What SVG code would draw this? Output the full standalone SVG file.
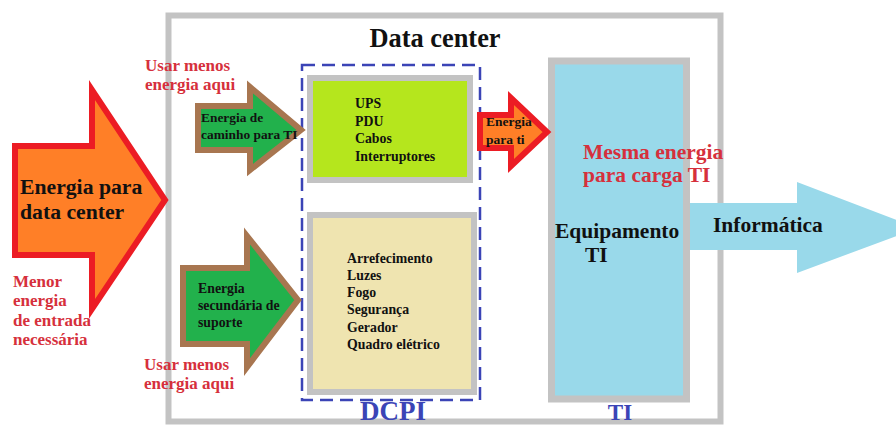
<svg xmlns="http://www.w3.org/2000/svg" width="896" height="425" viewBox="0 0 896 425" font-family="Liberation Serif, DejaVu Serif, Times New Roman, serif" font-weight="bold">
<style>
.blk{fill:#111}
.red{fill:#d6303c}
.blu{fill:#3b44b6}
.s13{font-size:13.8px}
.s17{font-size:17px}
.s21{font-size:21.5px}
.gray{fill:none;stroke:#c3c3c3;stroke-width:6}
.garrow{fill:#22b14c;stroke:#a87650;stroke-width:6;stroke-linejoin:miter}
.oarrow{fill:#ff7f27;stroke:#ec1c24;stroke-width:6;stroke-linejoin:miter}
</style>
<rect width="896" height="425" fill="#fff"/>
<g id="datacenter">
<rect x="168.5" y="15.5" width="552" height="406" class="gray"/>
<text x="435" y="47" text-anchor="middle" class="blk" font-size="26.4">Data center</text>
</g>
<g id="dcpi">
<rect x="302" y="65" width="178" height="335" fill="none" stroke="#3b44b6" stroke-width="2.5" stroke-dasharray="13,7"/>
<text x="393" y="420" text-anchor="middle" class="blu" font-size="27">DCPI</text>
</g>
<g id="ups">
<rect x="310" y="78" width="160" height="102" fill="#b5e61d" stroke="#c3c3c3" stroke-width="6"/>
<text class="blk s13" x="355" y="108">UPS</text>
<text class="blk s13" x="355" y="126">PDU</text>
<text class="blk s13" x="355" y="143">Cabos</text>
<text class="blk s13" x="355" y="161">Interruptores</text>
</g>
<g id="suporte">
<rect x="310" y="215" width="164" height="177" fill="#efe4b0" stroke="#c3c3c3" stroke-width="6"/>
<text class="blk s13" x="347" y="263">Arrefecimento</text>
<text class="blk s13" x="347" y="280">Luzes</text>
<text class="blk s13" x="347" y="297">Fogo</text>
<text class="blk s13" x="347" y="314">Segurança</text>
<text class="blk s13" x="347" y="332">Gerador</text>
<text class="blk s13" x="347" y="349">Quadro elétrico</text>
</g>
<g id="ti">
<rect x="551.5" y="61" width="135" height="338" fill="#99d9ea" stroke="#c3c3c3" stroke-width="7"/>
<text class="red s21" x="583" y="159">Mesma energia</text>
<text class="red s21" x="583" y="182">para carga TI</text>
<text class="blk s21" x="555" y="238">Equipamento</text>
<text class="blk s21" x="585" y="262">TI</text>
<text x="620" y="420" text-anchor="middle" class="blu" font-size="23">TI</text>
</g>
<g id="connectors">
<g id="entrada">
<polygon class="oarrow" points="15,146 92,146 92,90 165,200 92,309 92,255 15,255"/>
<text class="blk" x="20" y="194" font-size="21.7">Energia para</text>
<text class="blk" x="20" y="219" font-size="21.7">data center</text>
</g>
<g id="caminho">
<polygon class="garrow" points="198,106 250,106 250,87 301,130 250,170 250,150 198,150"/>
<text class="blk" x="201" y="122" font-size="13.4">Energia de</text>
<text class="blk" x="201" y="139" font-size="13.4">caminho para TI</text>
</g>
<g id="secundaria">
<polygon class="garrow" points="183,268 247,268 247,236 298,300 247,367 247,344 183,344"/>
<text class="blk s13" x="198" y="293">Energia</text>
<text class="blk s13" x="198" y="310">secundária de</text>
<text class="blk s13" x="198" y="327">suporte</text>
</g>
<g id="parati">
<polygon class="oarrow" points="480,115 511,115 511,98 547,132 511,166 511,148 480,148"/>
<text class="blk" x="486" y="126" font-size="13.5">Energia</text>
<text class="blk" x="486" y="144" font-size="13.5">para ti</text>
</g>
<g id="informatica">
<polygon fill="#99d9ea" points="690,203 797,203 797,182 918,228 797,273 797,250 690,250"/>
<text class="blk s21" x="713" y="232">Informática</text>
</g>
</g>
<g id="notas">
<text class="red s17" x="145" y="71">Usar menos</text>
<text class="red s17" x="145" y="90">energia aqui</text>
<text class="red s17" x="144" y="370">Usar menos</text>
<text class="red s17" x="144" y="389">energia aqui</text>
<text class="red s17" x="13" y="287">Menor</text>
<text class="red s17" x="13" y="306">energia</text>
<text class="red s17" x="13" y="326">de entrada</text>
<text class="red s17" x="13" y="345">necessária</text>
</g>
</svg>
